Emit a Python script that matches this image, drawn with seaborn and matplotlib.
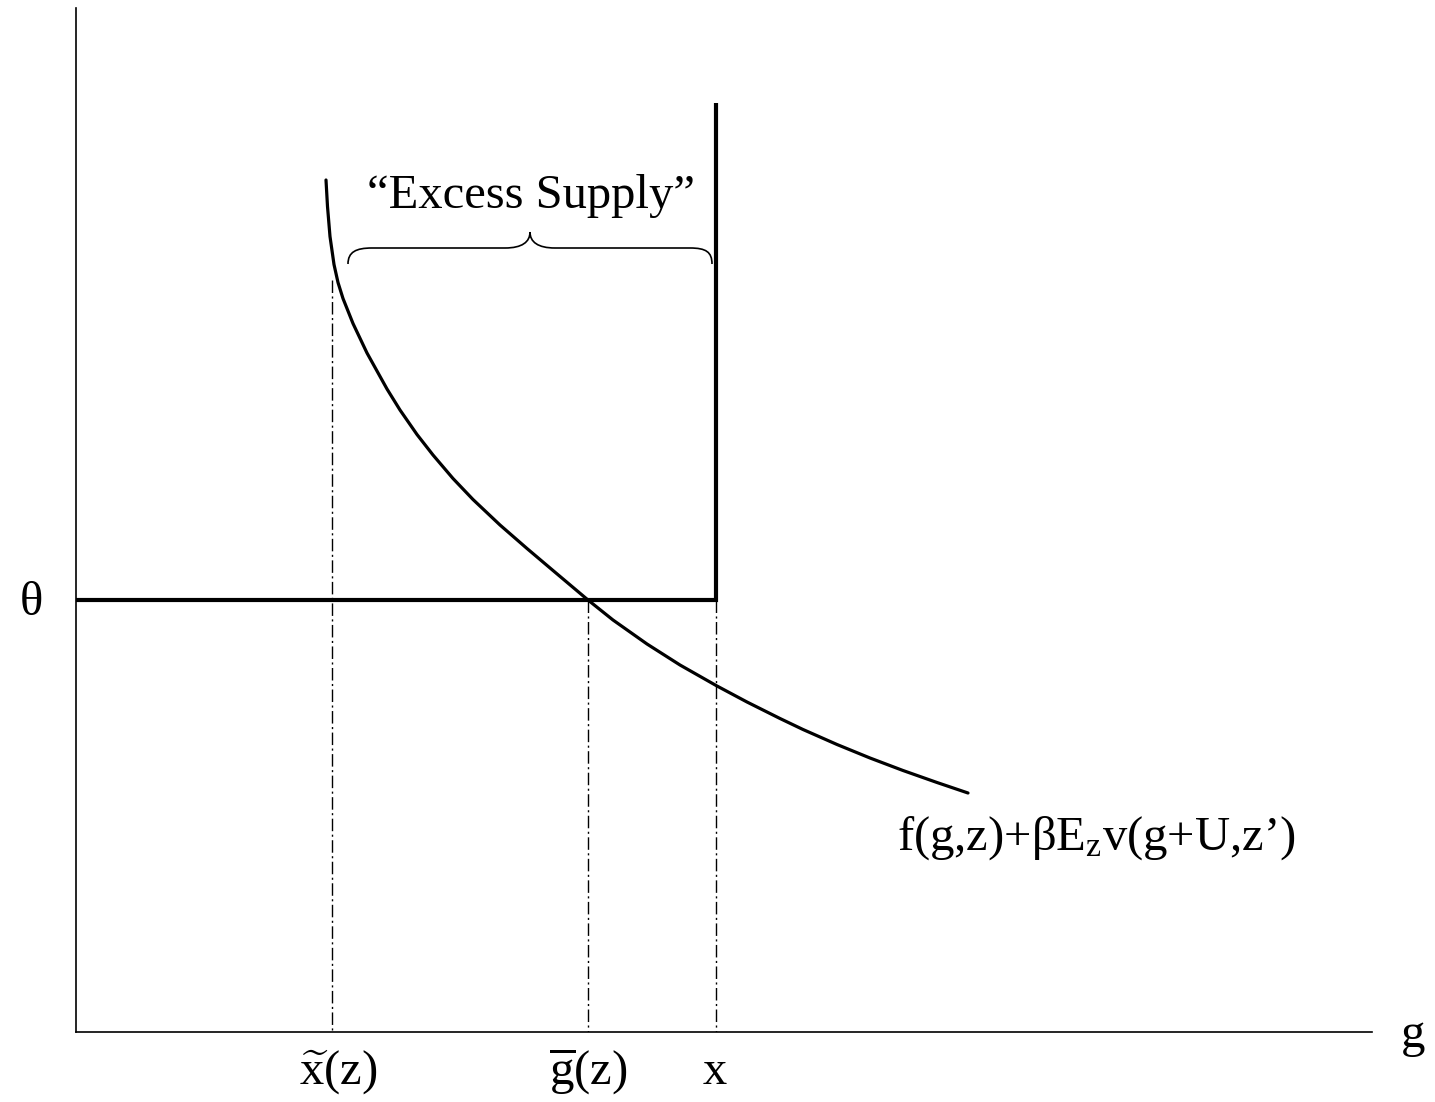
import numpy as np
import pandas as pd
import matplotlib
matplotlib.use("Agg")
import matplotlib.pyplot as plt
import seaborn as sns
from matplotlib.path import Path
from matplotlib.patches import PathPatch

# ---- data (diagram units) ----
curve_g = [326, 327.5, 330, 334, 338, 343, 353, 367, 387, 400, 417, 433, 453, 473,
           500, 527, 553, 588, 613, 647, 680, 717, 747, 780, 803, 837, 870,
           903, 937, 968]
curve_v = [180, 206.5, 236.5, 264.5, 282.5, 298.5, 323.5, 353, 389, 410, 434.5,
           455, 478.5, 499.5, 525, 548.5, 570.5, 600, 620, 644, 665, 686,
           702, 718.5, 729.5, 744.5, 758, 770.5, 782.5, 793]
theta = 600
x_supply = 716
supply_top = 103
x_tilde = 332
x_tilde_top = 280
g_bar = 588
g_min, g_max = 76, 1372
v_min, v_max = 8, 1032

tick_pos = [338, 588, 715]
tick_labels = [r"$\widetilde{\mathrm{x}}$(z)", r"$\overline{\mathrm{g}}$(z)", "x"]
curve_label = "f(g,z)+βE$_{\\mathrm{z}}$v(g+U,z’)"
brace_label = "“Excess Supply”"

sns.set_theme(style="white")
plt.rcParams["font.family"] = ["Liberation Serif", "DejaVu Serif"]
plt.rcParams["mathtext.fontset"] = "custom"
plt.rcParams["mathtext.rm"] = "Liberation Serif"
plt.rcParams["mathtext.it"] = "Liberation Serif:italic"
plt.rcParams["text.color"] = "black"

W, H = 1435, 1102
fig = plt.figure(figsize=(W / 100, H / 100), dpi=100)
ax = fig.add_axes([g_min / W, (H - v_max) / H, (g_max - g_min) / W, (v_max - v_min) / H])
ax.set_xlim(g_min, g_max)
ax.set_ylim(v_max, v_min)
ax.set_xticks([])
ax.set_yticks([])
for s in ["top", "right"]:
    ax.spines[s].set_visible(False)
for s in ["left", "bottom"]:
    ax.spines[s].set_color("black")
    ax.spines[s].set_linewidth(1.2)

df = pd.DataFrame({"g": curve_g, "v": curve_v})
sns.lineplot(data=df, x="g", y="v", sort=False, estimator=None, color="black",
             lw=2.3, ax=ax)
ax.lines[-1].set_solid_joinstyle("round")

# threshold and supply
ax.plot([g_min, x_supply, x_supply], [theta, theta, supply_top], color="black",
        lw=3.0, solid_joinstyle="miter", solid_capstyle="butt")

dd = (0, (9, 2.5, 1.5, 2.5))
for xv, ytop in [(x_tilde, x_tilde_top), (g_bar, theta), (x_supply, theta)]:
    ax.plot([xv, xv], [ytop, v_max], color="black", lw=1.0, linestyle=dd)

# brace
verts = [(348, 264), (348, 252), (356, 248), (372, 248),
         (505, 248),
         (522, 248), (530, 242), (530, 232),
         (530, 242), (538, 248), (555, 248),
         (690, 248),
         (706, 248), (712, 252), (712, 264)]
codes = [Path.MOVETO, Path.CURVE4, Path.CURVE4, Path.CURVE4,
         Path.LINETO,
         Path.CURVE4, Path.CURVE4, Path.CURVE4,
         Path.CURVE4, Path.CURVE4, Path.CURVE4,
         Path.LINETO,
         Path.CURVE4, Path.CURVE4, Path.CURVE4]
ax.add_patch(PathPatch(Path(verts, codes), fill=False, lw=1.2, edgecolor="black"))

fs = 35
ax.text(531, 208, brace_label, fontsize=fs, ha="center", va="baseline", color="black")
ax.text(897, 850, curve_label, fontsize=fs, ha="left", va="baseline", color="black")
ax.text(31, 615, "θ", fontsize=fs, ha="center", va="baseline", clip_on=False, color="black")
ax.text(1413, 1047, "g", fontsize=fs, ha="center", va="baseline", clip_on=False, color="black")
for xp, lab in zip(tick_pos, tick_labels):
    ax.text(xp, 1084, lab, fontsize=fs, ha="center", va="baseline", clip_on=False,
            color="black")

fig.savefig("out.png", dpi=100)
